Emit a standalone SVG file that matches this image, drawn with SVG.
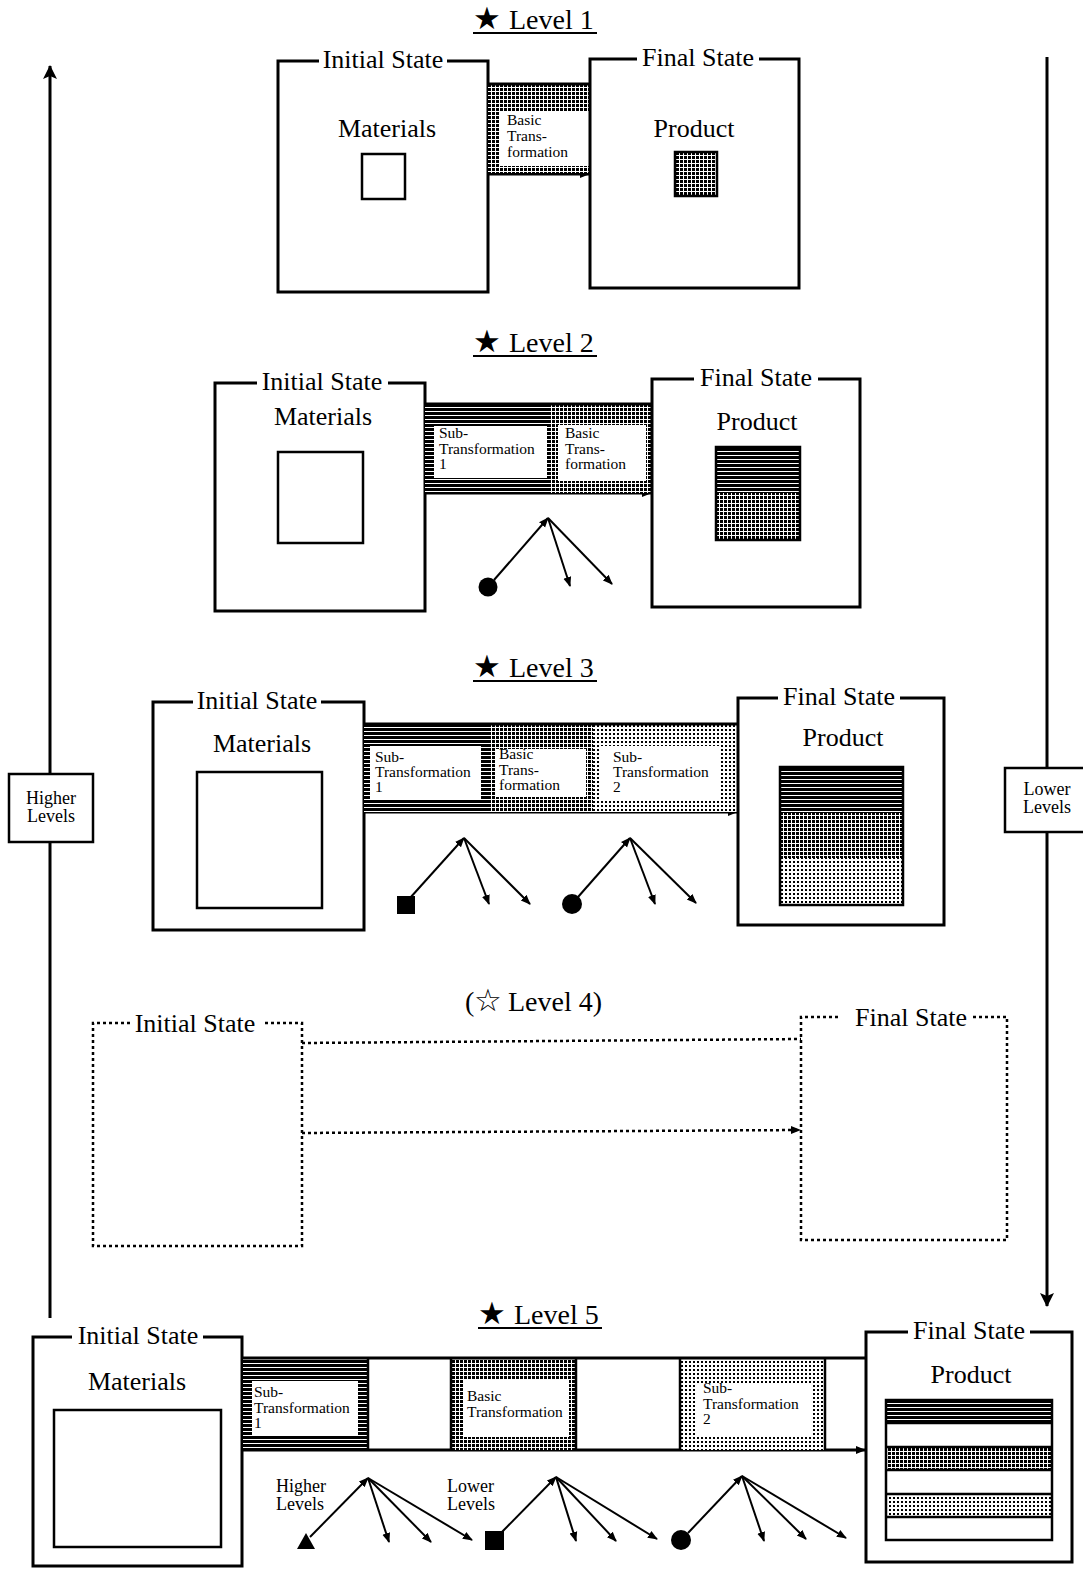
<svg xmlns="http://www.w3.org/2000/svg" width="1083" height="1573" viewBox="0 0 1083 1573">
<style>
.box{fill:none;stroke:#000;stroke-width:3}
.dbox{fill:none;stroke:#000;stroke-width:2.5;stroke-dasharray:3 3}
.inner{fill:#fff;stroke:#000;stroke-width:2.5}
.pbox{fill:none;stroke:#000;stroke-width:2.5}
.wh{fill:#fff}
text{font-family:"Liberation Serif","DejaVu Serif",serif;fill:#000}
.lbl{font-size:26px}
.ttl{font-size:28px}
.sym{font-family:"DejaVu Sans",sans-serif;font-size:31px}
.sm{font-size:15.5px}
.side{font-size:18px}
.edge{stroke:#000;stroke-width:3;fill:none}
.fan{stroke:#000;stroke-width:2;fill:none}
.dl{stroke:#000;stroke-width:2.5;stroke-dasharray:3 3;fill:none}
.sep{stroke:#000;stroke-width:2.5}
</style>
<defs>
<pattern id="hl" width="6" height="4" patternUnits="userSpaceOnUse"><rect width="6" height="4" fill="#fff"/><rect width="6" height="3" fill="#000"/></pattern>
<pattern id="gd" width="4" height="4" patternUnits="userSpaceOnUse"><rect width="4" height="4" fill="#fff"/><rect width="3" height="3" fill="#000"/></pattern>
<pattern id="ld" width="4" height="4" patternUnits="userSpaceOnUse"><rect width="4" height="4" fill="#fff"/><rect x="1" y="1" width="2" height="2" fill="#000"/></pattern>
<marker id="ah" viewBox="0 0 10 10" refX="9" refY="5" markerWidth="10" markerHeight="10" markerUnits="userSpaceOnUse" orient="auto"><path d="M0,1 L10,5 L0,9 z" fill="#000"/></marker>
<marker id="ahb" viewBox="0 0 14 14" refX="13" refY="7" markerWidth="14" markerHeight="14" markerUnits="userSpaceOnUse" orient="auto"><path d="M0,0 L14,7 L0,14 L3,7 z" fill="#000"/></marker>
</defs>
<rect width="1083" height="1573" fill="#fff"/>

<g id="connectors">
<line class="edge" x1="50" y1="1318" x2="50" y2="66" marker-end="url(#ahb)"/>
<line class="edge" x1="1047" y1="57" x2="1047" y2="1306" marker-end="url(#ahb)"/>
<line class="edge" x1="488" y1="174" x2="589" y2="174" marker-end="url(#ah)"/>
<line class="edge" x1="425" y1="493" x2="651" y2="493" marker-end="url(#ah)"/>
<line class="fan" x1="494" y1="580" x2="548" y2="518" marker-end="url(#ah)"/>
<line class="fan" x1="548" y1="518" x2="570" y2="586" marker-end="url(#ah)"/>
<line class="fan" x1="548" y1="518" x2="612" y2="584" marker-end="url(#ah)"/>
<line class="edge" x1="364" y1="812" x2="737" y2="812" marker-end="url(#ah)"/>
<line class="fan" x1="410" y1="898" x2="464" y2="838" marker-end="url(#ah)"/>
<line class="fan" x1="464" y1="838" x2="489" y2="904" marker-end="url(#ah)"/>
<line class="fan" x1="464" y1="838" x2="530" y2="904" marker-end="url(#ah)"/>
<line class="fan" x1="578" y1="897" x2="630" y2="838" marker-end="url(#ah)"/>
<line class="fan" x1="630" y1="838" x2="655" y2="904" marker-end="url(#ah)"/>
<line class="fan" x1="630" y1="838" x2="696" y2="903" marker-end="url(#ah)"/>
<line class="dl" x1="302" y1="1043" x2="801" y2="1039"/>
<line class="dl" x1="302" y1="1133" x2="800" y2="1130" marker-end="url(#ah)"/>
<line class="edge" x1="243" y1="1450" x2="865" y2="1450" marker-end="url(#ah)"/>
<line class="fan" x1="310" y1="1537" x2="368" y2="1478" marker-end="url(#ah)"/>
<line class="fan" x1="368" y1="1478" x2="389" y2="1542" marker-end="url(#ah)"/>
<line class="fan" x1="368" y1="1478" x2="431" y2="1542" marker-end="url(#ah)"/>
<line class="fan" x1="368" y1="1478" x2="472" y2="1540" marker-end="url(#ah)"/>
<line class="fan" x1="498" y1="1536" x2="556" y2="1477" marker-end="url(#ah)"/>
<line class="fan" x1="556" y1="1477" x2="576" y2="1541" marker-end="url(#ah)"/>
<line class="fan" x1="556" y1="1477" x2="616" y2="1541" marker-end="url(#ah)"/>
<line class="fan" x1="556" y1="1477" x2="657" y2="1539" marker-end="url(#ah)"/>
<line class="fan" x1="688" y1="1533" x2="742" y2="1476" marker-end="url(#ah)"/>
<line class="fan" x1="742" y1="1476" x2="764" y2="1541" marker-end="url(#ah)"/>
<line class="fan" x1="742" y1="1476" x2="806" y2="1539" marker-end="url(#ah)"/>
<line class="fan" x1="742" y1="1476" x2="846" y2="1538" marker-end="url(#ah)"/>
</g>

<g id="higher-levels">
<rect x="9" y="774" width="84" height="68" fill="#fff" stroke="#000" stroke-width="2.5"/>
<text class="side" x="51" y="804" text-anchor="middle">Higher</text>
<text class="side" x="51" y="822" text-anchor="middle">Levels</text>
</g>
<g id="lower-levels">
<rect x="1005" y="768" width="82" height="64" fill="#fff" stroke="#000" stroke-width="2.5"/>
<text class="side" x="1047" y="795" text-anchor="middle">Lower</text>
<text class="side" x="1047" y="813" text-anchor="middle">Levels</text>
</g>

<g id="level1-title">
<text class="ttl" x="473" y="29"><tspan class="sym">★ </tspan><tspan x="509">Level 1</tspan></text>
<line x1="473" y1="33" x2="597" y2="33" stroke="#000" stroke-width="2"/>
</g>
<g id="l1-initial">
<path class="box" d="M319,61 H278 V292 H488 V61 H447"/>
<text class="lbl" x="383" y="68" text-anchor="middle">Initial State</text>
<text class="lbl" x="387" y="137" text-anchor="middle">Materials</text>
<rect class="inner" x="362" y="154" width="43" height="45"/>
</g>
<g id="l1-transformation">
<rect x="488" y="84" width="102" height="89" fill="url(#gd)"/>
<rect class="wh" x="500" y="112" width="90" height="54"/>
<line x1="488" y1="84" x2="590" y2="84" stroke="#000" stroke-width="3"/>
<text class="sm" x="507" y="125">Basic</text>
<text class="sm" x="507" y="141">Trans-</text>
<text class="sm" x="507" y="157">formation</text>
</g>
<g id="l1-final">
<path class="box" d="M637,59 H590 V288 H799 V59 H759"/>
<text class="lbl" x="698" y="66" text-anchor="middle">Final State</text>
<text class="lbl" x="694" y="137" text-anchor="middle">Product</text>
<rect x="675" y="152" width="42" height="44" fill="url(#gd)"/>
<rect class="pbox" x="675" y="152" width="42" height="44"/>
</g>

<g id="level2-title">
<text class="ttl" x="473" y="352"><tspan class="sym">★ </tspan><tspan x="509">Level 2</tspan></text>
<line x1="473" y1="356" x2="597" y2="356" stroke="#000" stroke-width="2"/>
</g>
<g id="l2-initial">
<path class="box" d="M257,383 H215 V611 H425 V383 H388"/>
<text class="lbl" x="322" y="390" text-anchor="middle">Initial State</text>
<text class="lbl" x="323" y="425" text-anchor="middle">Materials</text>
<rect class="inner" x="278" y="452" width="85" height="91"/>
</g>
<g id="l2-transformations">
<rect x="425" y="404" width="125" height="89" fill="url(#hl)"/>
<rect x="550" y="404" width="102" height="89" fill="url(#gd)"/>
<rect class="wh" x="434" y="426" width="113" height="52"/>
<rect class="wh" x="558" y="425" width="88" height="56"/>
<line x1="425" y1="404" x2="652" y2="404" stroke="#000" stroke-width="3"/>
<text class="sm" x="439" y="438">Sub-</text>
<text class="sm" x="439" y="454">Transformation</text>
<text class="sm" x="439" y="469">1</text>
<text class="sm" x="565" y="438">Basic</text>
<text class="sm" x="565" y="454">Trans-</text>
<text class="sm" x="565" y="469">formation</text>
</g>
<g id="l2-final">
<path class="box" d="M694,379 H652 V607 H860 V379 H818"/>
<text class="lbl" x="756" y="386" text-anchor="middle">Final State</text>
<text class="lbl" x="757" y="430" text-anchor="middle">Product</text>
<rect x="716" y="447" width="84" height="46" fill="url(#hl)"/>
<rect x="716" y="493" width="84" height="47" fill="url(#gd)"/>
<rect class="pbox" x="716" y="447" width="84" height="93"/>
</g>
<g id="l2-circle"><circle cx="488" cy="587" r="9.5" fill="#000"/></g>

<g id="level3-title">
<text class="ttl" x="473" y="677"><tspan class="sym">★ </tspan><tspan x="509">Level 3</tspan></text>
<line x1="473" y1="681" x2="597" y2="681" stroke="#000" stroke-width="2"/>
</g>
<g id="l3-initial">
<path class="box" d="M193,702 H153 V930 H364 V702 H321"/>
<text class="lbl" x="257" y="709" text-anchor="middle">Initial State</text>
<text class="lbl" x="262" y="752" text-anchor="middle">Materials</text>
<rect class="inner" x="197" y="772" width="125" height="136"/>
</g>
<g id="l3-transformations">
<rect x="364" y="724" width="125" height="88" fill="url(#hl)"/>
<rect x="489" y="724" width="104" height="88" fill="url(#gd)"/>
<rect x="593" y="724" width="145" height="88" fill="url(#ld)"/>
<rect class="wh" x="370" y="746" width="111" height="54"/>
<rect class="wh" x="496" y="749" width="90" height="48"/>
<rect class="wh" x="599" y="746" width="120" height="55"/>
<line x1="364" y1="724" x2="738" y2="724" stroke="#000" stroke-width="3"/>
<text class="sm" x="375" y="762">Sub-</text>
<text class="sm" x="375" y="777">Transformation</text>
<text class="sm" x="375" y="792">1</text>
<text class="sm" x="499" y="759">Basic</text>
<text class="sm" x="499" y="775">Trans-</text>
<text class="sm" x="499" y="790">formation</text>
<text class="sm" x="613" y="762">Sub-</text>
<text class="sm" x="613" y="777">Transformation</text>
<text class="sm" x="613" y="792">2</text>
</g>
<g id="l3-final">
<path class="box" d="M778,698 H738 V925 H944 V698 H900"/>
<text class="lbl" x="839" y="705" text-anchor="middle">Final State</text>
<text class="lbl" x="843" y="746" text-anchor="middle">Product</text>
<rect x="780" y="767" width="123" height="46" fill="url(#hl)"/>
<rect x="780" y="813" width="123" height="45" fill="url(#gd)"/>
<rect x="780" y="858" width="123" height="47" fill="url(#ld)"/>
<rect class="pbox" x="780" y="767" width="123" height="138"/>
</g>
<g id="l3-square"><rect x="397" y="896" width="18" height="18" fill="#000"/></g>
<g id="l3-circle"><circle cx="572" cy="904" r="10" fill="#000"/></g>

<g id="level4-title">
<text class="ttl" x="465" y="1011">(<tspan class="sym" x="474">☆ </tspan><tspan x="508">Level 4)</tspan></text>
</g>
<g id="l4-initial">
<path class="dbox" d="M130,1023 H93 V1246 H302 V1023 H263"/>
<text class="lbl" x="195" y="1032" text-anchor="middle">Initial State</text>
</g>
<g id="l4-final">
<path class="dbox" d="M838,1017 H801 V1240 H1007 V1017 H970"/>
<text class="lbl" x="911" y="1026" text-anchor="middle">Final State</text>
</g>

<g id="level5-title">
<text class="ttl" x="478" y="1324"><tspan class="sym">★ </tspan><tspan x="514">Level 5</tspan></text>
<line x1="478" y1="1328" x2="602" y2="1328" stroke="#000" stroke-width="2"/>
</g>
<g id="l5-initial">
<path class="box" d="M72,1337 H33 V1566 H242 V1337 H203"/>
<text class="lbl" x="138" y="1344" text-anchor="middle">Initial State</text>
<text class="lbl" x="137" y="1390" text-anchor="middle">Materials</text>
<rect class="inner" x="54" y="1410" width="167" height="137"/>
</g>
<g id="l5-transformations">
<rect x="243" y="1358" width="125" height="92" fill="url(#hl)"/>
<rect x="451" y="1358" width="125" height="92" fill="url(#gd)"/>
<rect x="680" y="1358" width="145" height="92" fill="url(#ld)"/>
<rect class="wh" x="252" y="1381" width="106" height="55"/>
<rect class="wh" x="464" y="1380" width="105" height="57"/>
<rect class="wh" x="697" y="1383" width="116" height="54"/>
<line x1="243" y1="1358" x2="866" y2="1358" stroke="#000" stroke-width="3"/>
<line class="sep" x1="368" y1="1358" x2="368" y2="1450"/>
<line class="sep" x1="451" y1="1358" x2="451" y2="1450"/>
<line class="sep" x1="576" y1="1358" x2="576" y2="1450"/>
<line class="sep" x1="680" y1="1358" x2="680" y2="1450"/>
<line class="sep" x1="825" y1="1358" x2="825" y2="1450"/>
<text class="sm" x="254" y="1397">Sub-</text>
<text class="sm" x="254" y="1413">Transformation</text>
<text class="sm" x="254" y="1428">1</text>
<text class="sm" x="467" y="1401">Basic</text>
<text class="sm" x="467" y="1417">Transformation</text>
<text class="sm" x="703" y="1393">Sub-</text>
<text class="sm" x="703" y="1409">Transformation</text>
<text class="sm" x="703" y="1424">2</text>
</g>
<g id="l5-final">
<path class="box" d="M908,1332 H866 V1562 H1072 V1332 H1030"/>
<text class="lbl" x="969" y="1339" text-anchor="middle">Final State</text>
<text class="lbl" x="971" y="1383" text-anchor="middle">Product</text>
<rect x="886" y="1400" width="166" height="23" fill="url(#hl)"/>
<rect x="886" y="1447" width="166" height="23" fill="url(#gd)"/>
<rect x="886" y="1494" width="166" height="23" fill="url(#ld)"/>
<rect class="pbox" x="886" y="1400" width="166" height="140"/>
<line class="sep" x1="886" y1="1423" x2="1052" y2="1423" stroke-width="2"/>
<line class="sep" x1="886" y1="1447" x2="1052" y2="1447" stroke-width="2"/>
<line class="sep" x1="886" y1="1470" x2="1052" y2="1470" stroke-width="2"/>
<line class="sep" x1="886" y1="1494" x2="1052" y2="1494" stroke-width="2"/>
<line class="sep" x1="886" y1="1517" x2="1052" y2="1517" stroke-width="2"/>
</g>
<g id="l5-higher-label">
<text class="side" x="276" y="1492">Higher</text>
<text class="side" x="276" y="1510">Levels</text>
</g>
<g id="l5-lower-label">
<text class="side" x="447" y="1492">Lower</text>
<text class="side" x="447" y="1510">Levels</text>
</g>
<g id="l5-triangle"><path d="M297,1549 L306,1533 L315,1549 z" fill="#000"/></g>
<g id="l5-square"><rect x="485" y="1531" width="19" height="19" fill="#000"/></g>
<g id="l5-circle"><circle cx="681" cy="1540" r="10" fill="#000"/></g>
</svg>
